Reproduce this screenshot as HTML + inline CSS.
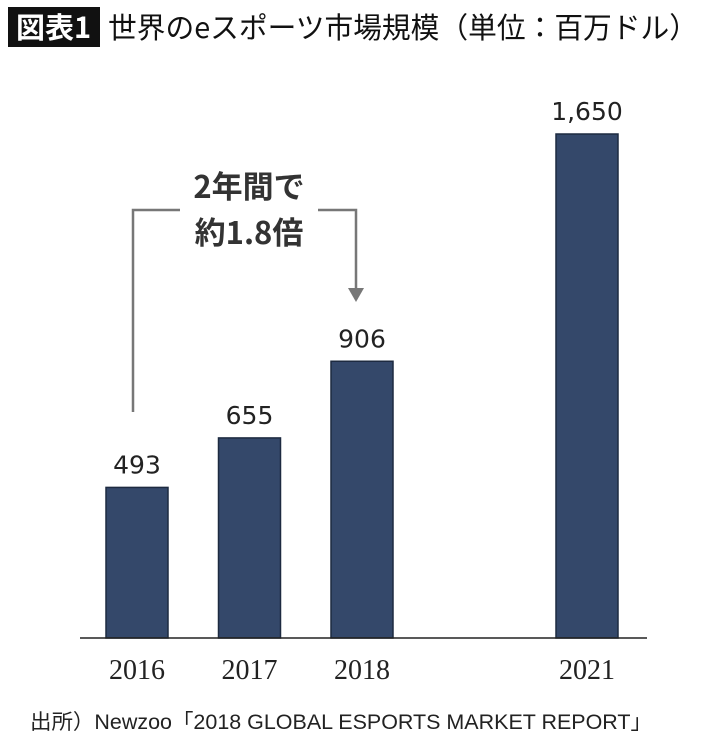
<!DOCTYPE html>
<html><head><meta charset="utf-8"><style>
body{margin:0;background:#fff;width:710px;height:744px;overflow:hidden;font-family:"Liberation Sans","Noto Sans CJK JP",sans-serif}
</style></head><body>
<svg width="710" height="744" id="c">
<rect x="8" y="7" width="92" height="40" fill="#111"/>
<text x="16" y="38" font-size="29" fill="#fff" font-family="Noto Sans CJK JP,sans-serif" font-weight="bold">図表1</text>
<text x="108" y="38" font-size="29" fill="#111" font-family="Noto Sans CJK JP,sans-serif" textLength="590" lengthAdjust="spacingAndGlyphs">世界のeスポーツ市場規模（単位：百万ドル）</text>
<g id="bars"></g>
<line x1="80" y1="638" x2="647" y2="638" stroke="#222" stroke-width="1.5"/>
<g fill="none" stroke="#777" stroke-width="2.5">
<polyline points="133,412 133,210 180,210"/>
<polyline points="318,210 356,210 356,290"/>
</g>
<polygon points="348,288 364,288 356,302" fill="#777"/>
<text x="249" y="198" font-size="31" font-weight="bold" fill="#333" text-anchor="middle" font-family="Noto Sans CJK JP,sans-serif">2年間で</text>
<text x="249" y="244" font-size="31" font-weight="bold" fill="#333" text-anchor="middle" font-family="Noto Sans CJK JP,sans-serif">約1.8倍</text>
<text x="30" y="729" font-size="21" fill="#222" textLength="622" lengthAdjust="spacingAndGlyphs">出所）Newzoo「2018 GLOBAL ESPORTS MARKET REPORT」</text>
</svg>
<script>
const categories=["2016","2017","2018","2021"];
const values=[493,655,906,1650];
const valueLabels=["493","655","906","1,650"];
const slots=[0,1,2,4];
const baseY=638, pxPerUnit=504/1650, x0=106, step=112.5, bw=62;
const ns="http://www.w3.org/2000/svg";
const g=document.getElementById('bars');
function xs(i){return x0+slots[i]*step;}
function ys(v){return baseY-v*pxPerUnit;}
categories.forEach((c,i)=>{
 const r=document.createElementNS(ns,'rect');
 r.setAttribute('x',xs(i));r.setAttribute('y',ys(values[i]));
 r.setAttribute('width',bw);r.setAttribute('height',baseY-ys(values[i]));
 r.setAttribute('fill','#34486a');r.setAttribute('stroke','#1d2a40');r.setAttribute('stroke-width','1.5');
 
 
 g.appendChild(r);
 const t=document.createElementNS(ns,'text');
 t.setAttribute('x',xs(i)+bw/2);t.setAttribute('y',ys(values[i])-14);
 t.setAttribute('text-anchor','middle');t.setAttribute('font-size','25');t.setAttribute('fill','#222');
 t.setAttribute('font-family','DejaVu Sans,sans-serif');
 t.textContent=valueLabels[i];
 
 
 g.appendChild(t);
 const l=document.createElementNS(ns,'text');
 l.setAttribute('x',xs(i)+bw/2);l.setAttribute('y',679);
 l.setAttribute('text-anchor','middle');l.setAttribute('font-size','28');l.setAttribute('fill','#222');
 l.setAttribute('font-family','Liberation Serif,serif');
 l.textContent=c;
 
 
 g.appendChild(l);
});
</script>
</body></html>
